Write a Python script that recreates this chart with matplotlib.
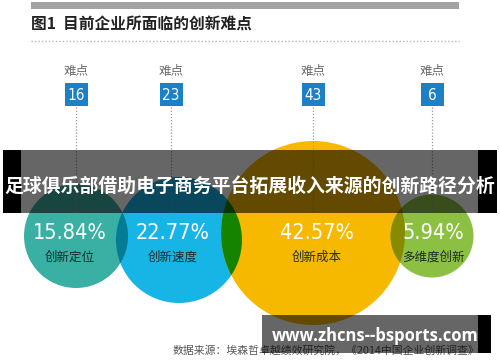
import matplotlib
matplotlib.use("Agg")
import matplotlib.pyplot as plt
from matplotlib.patches import Circle, Rectangle
from matplotlib.colors import to_rgb

plt.rcParams['font.family'] = ['Noto Sans CJK SC', 'DejaVu Sans']

# data
categories = ['创新定位', '创新速度', '创新成本', '多维度创新']
difficulty = [16, 23, 43, 6]
shares = [15.84, 22.77, 42.57, 5.94]
title = '图1  目前企业所面临的创新难点'
source = '数据来源：埃森哲卓越绩效研究院，《2014中国企业创新调查》'
banner = '足球俱乐部借助电子商务平台拓展收入来源的创新路径分析'
watermark = 'www.zhcns--bsports.com'

# layout (pixel coordinates)
marker_x = [76, 171, 313, 432]
centers = [(76, 236), (179, 240), (313, 233), (432, 236)]
radii = [52, 63, 92, 41.5]
text_x = [70, 173, 317, 433]
colors = ['#3aafa4', '#17b4e6', '#f7b900', '#8cc043']
BOX = '#1b80c6'

fig = plt.figure(figsize=(5.0, 3.62), dpi=100)
ax = fig.add_axes([0, 0, 1, 1])
ax.set_xlim(0, 500)
ax.set_ylim(362, 0)
ax.axis('off')

# header
ax.add_patch(Rectangle((31, 2), 428, 7, color='#a3a3a3', lw=0))
ax.text(31, 25, title, fontsize=11.3, fontweight='bold', color='#222222',
        ha='left', va='center')
ax.plot([31, 459], [41, 41], color='#b5b5b5', lw=1, ls=(0, (1, 1.5)))

# circles with multiply-like overlaps
patches = []
for (cx, cy), r, c in zip(centers, radii, colors):
    p = Circle((cx, cy), r, facecolor=c, edgecolor='none', zorder=2)
    ax.add_patch(p)
    patches.append(p)
for i in range(len(patches) - 1):
    ci, cj = to_rgb(colors[i]), to_rgb(colors[i + 1])
    mix = tuple(a * b for a, b in zip(ci, cj))
    (cx, cy), r = centers[i + 1], radii[i + 1]
    ov = Circle((cx, cy), r, facecolor=mix, edgecolor='none', zorder=3)
    ax.add_patch(ov)
    ov.set_clip_path(patches[i])

# markers above circles
for x, n in zip(marker_x, difficulty):
    ax.text(x, 72, '难点', fontsize=9, color='#6a6a6a', ha='center', va='center')
    ax.add_patch(Rectangle((x - 11.5, 83), 23, 23, color=BOX, lw=0, zorder=4))
    ax.text(x, 95.5, str(n), fontsize=11, color='white', family='DejaVu Sans',
            fontstretch='condensed', ha='center', va='center', zorder=5)
    ax.plot([x, x], [107, 212], color='#9a9a9a', lw=0.9, ls=(0, (1, 1.5)),
            zorder=4)

for x, s, cat in zip(text_x, shares, categories):
    ax.text(x, 233, f'{s:.2f}%', fontsize=15.5, color='white',
            family='DejaVu Sans', fontstretch='condensed',
            ha='center', va='center', zorder=6)
    ax.text(x, 257, cat, fontsize=9, color='#1f2b2b', ha='center',
            va='center', zorder=6)

# source line
ax.text(173, 350, source, fontsize=7.8, color='#555555', ha='left',
        va='center', zorder=6)

# banner overlay
ax.add_patch(Rectangle((21, 150), 457, 63, color='black', alpha=0.6, lw=0,
                       zorder=8))
ax.add_patch(Rectangle((3, 150), 18, 63, color='black', lw=0, zorder=8))
ax.add_patch(Rectangle((478, 150), 19, 63, color='black', lw=0, zorder=8))
ax.text(250, 186, banner, fontsize=13.6, fontweight='bold', color='white',
        ha='center', va='center', zorder=9)

# watermark box
ax.add_patch(Rectangle((262, 315), 216, 38, color='black', alpha=0.6, lw=0,
                       zorder=8))
ax.add_patch(Rectangle((478, 315), 13, 38, color='black', lw=0, zorder=8))
ax.text(375, 336, watermark, fontsize=12, fontweight='bold', color='white',
        family=['Open Sans', 'DejaVu Sans'], ha='center', va='center',
        zorder=9)

fig.savefig('out.png', dpi=100)
